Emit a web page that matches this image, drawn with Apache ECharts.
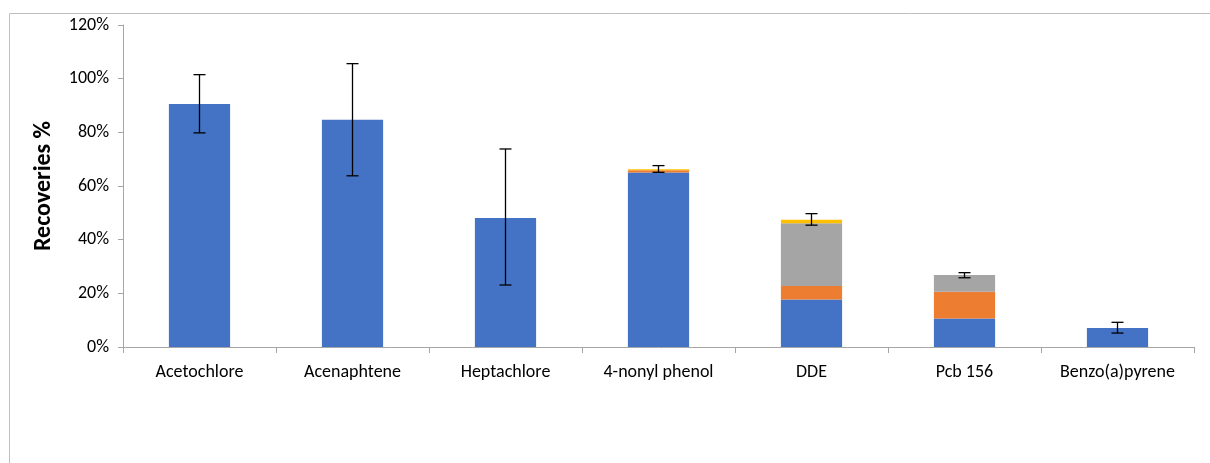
<!DOCTYPE html>
<html>
<head>
<meta charset="utf-8">
<script src="https://cdn.jsdelivr.net/npm/echarts@6/dist/echarts.min.js"></script>
<style>
  html, body { margin: 0; padding: 0; background: #fff; }
  #main { width: 1210px; height: 463px; }
</style>
</head>
<body>
<div id="main"></div>
<script type="text/javascript">
// data (percent)
var categories = ['Acetochlore', 'Acenaphtene', 'Heptachlore', '4-nonyl phenol', 'DDE', 'Pcb 156', 'Benzo(a)pyrene'];
var part1 = [90.6, 84.7, 48.1, 65.0, 17.7, 10.6, 7.1];
var part2 = [0, 0, 0, 0.9, 5.0, 10.0, 0];
var part3 = [0, 0, 0, 0, 23.4, 6.2, 0];
var part4 = [0, 0, 0, 0.3, 1.3, 0, 0];
var errLow = [79.8, 63.8, 23.1, 65.1, 45.4, 25.8, 5.2];
var errHigh = [101.5, 105.6, 73.8, 67.6, 49.7, 27.7, 9.2];
var yTicks = { min: 0, max: 120, interval: 20 };

var errData = categories.map(function (c, i) { return [i, errLow[i], errHigh[i]]; });

var myChart = echarts.init(document.getElementById('main'));

function barSeries(name, data, color) {
    return {
        name: name,
        type: 'bar',
        stack: 'total',
        barWidth: '40%',
        data: data,
        itemStyle: { color: color },
        emphasis: { disabled: true }
    };
}

var option = {
    animation: false,
    textStyle: { fontFamily: 'Carlito, "Liberation Sans", sans-serif' },
    graphic: [{
        type: 'rect',
        shape: { x: 9.5, y: 13.5, width: 1220, height: 470 },
        style: { fill: 'none', stroke: '#bfbfbf', lineWidth: 1 },
        silent: true
    }],
    grid: { left: 123, top: 25, right: 16, bottom: 116 },
    xAxis: {
        type: 'category',
        data: categories,
        axisLine: { lineStyle: { color: '#a6a6a6', width: 1 } },
        axisTick: { show: true, length: 6, lineStyle: { color: '#a6a6a6' } },
        axisLabel: { color: '#000', fontSize: 18, margin: 16 }
    },
    yAxis: {
        type: 'value',
        min: yTicks.min,
        max: yTicks.max,
        interval: yTicks.interval,
        name: 'Recoveries %',
        nameLocation: 'middle',
        nameGap: 67,
        nameTextStyle: { color: '#000', fontSize: 24, fontWeight: 'bold' },
        axisLine: { show: true, lineStyle: { color: '#a6a6a6' } },
        axisTick: { show: true, length: 5, lineStyle: { color: '#a6a6a6' } },
        axisLabel: { color: '#000', fontSize: 18, margin: 14, formatter: '{value}%' },
        splitLine: { show: false }
    },
    series: [
        barSeries('s1', part1, '#4472C4'),
        barSeries('s2', part2, '#ED7D31'),
        barSeries('s3', part3, '#A5A5A5'),
        barSeries('s4', part4, '#FFC000'),
        {
            type: 'custom',
            name: 'error',
            data: errData,
            z: 10,
            renderItem: function (params, api) {
                var x = api.value(0);
                var lo = api.coord([x, api.value(1)]);
                var hi = api.coord([x, api.value(2)]);
                var hw = 6;
                var st = { stroke: '#000', lineWidth: 1.3 };
                return {
                    type: 'group',
                    children: [
                        { type: 'line', shape: { x1: hi[0], y1: hi[1], x2: lo[0], y2: lo[1] }, style: st },
                        { type: 'line', shape: { x1: hi[0] - hw, y1: hi[1], x2: hi[0] + hw, y2: hi[1] }, style: st },
                        { type: 'line', shape: { x1: lo[0] - hw, y1: lo[1], x2: lo[0] + hw, y2: lo[1] }, style: st }
                    ]
                };
            }
        }
    ]
};

myChart.setOption(option);
</script>
</body>
</html>
